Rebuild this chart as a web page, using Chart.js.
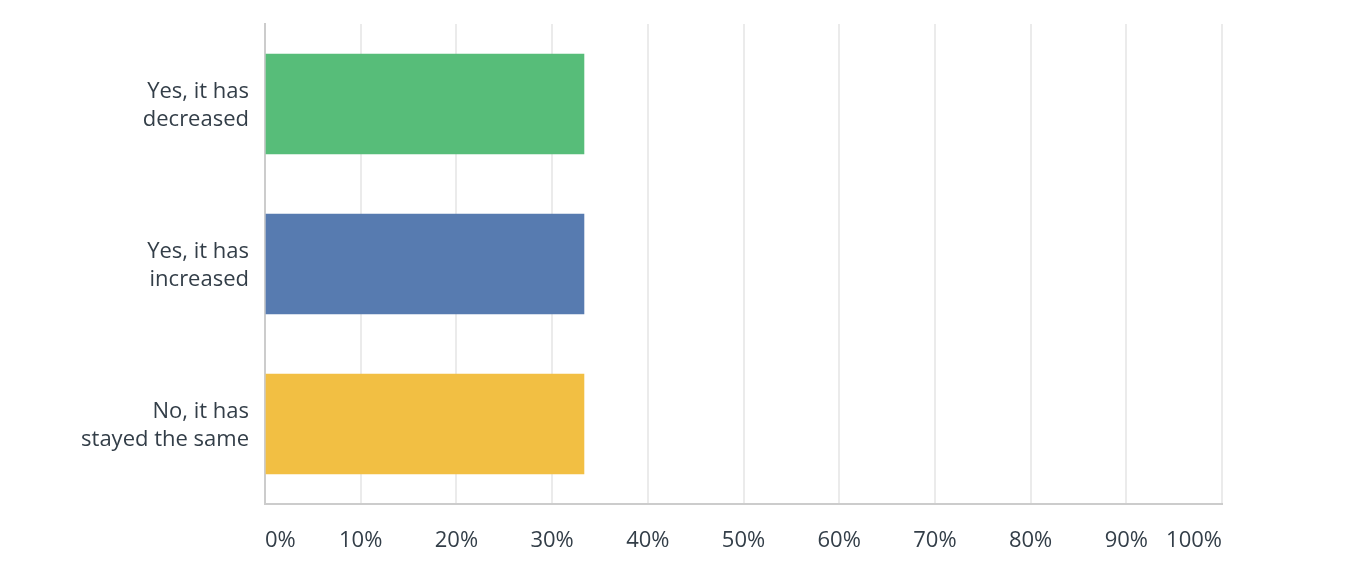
<!DOCTYPE html>
<html>
<head>
<meta charset="utf-8">
<script src="https://cdn.jsdelivr.net/npm/chart.js@4"></script>
<style>
  html, body { margin: 0; padding: 0; background: #fff; }
  #wrap { width: 1364px; height: 580px; }
</style>
</head>
<body>
<div id="wrap"><canvas id="surveyChart"></canvas></div>
<script>
const categories = [
    ['Yes, it has', 'decreased'],
    ['Yes, it has', 'increased'],
    ['No, it has', 'stayed the same']
];
const responses = [33.33, 33.33, 33.33];
const barColors = ['#57bd79', '#577bb0', '#f2bf43'];
const tickValues = [0, 10, 20, 30, 40, 50, 60, 70, 80, 90, 100];

const textColor = '#333e48';
const fontFamily = "'Open Sans', 'Noto Sans', sans-serif";

const ctx = document.getElementById('surveyChart').getContext('2d');
new Chart(ctx, {
    type: 'bar',
    data: {
        labels: categories,
        datasets: [{
            data: responses,
            backgroundColor: barColors,
            borderWidth: 0,
            barThickness: 100
        }]
    },
    options: {
        indexAxis: 'y',
        responsive: true,
        maintainAspectRatio: false,
        animation: false,
        layout: { padding: { top: 24, right: 142, left: 0, bottom: 0 } },
        plugins: {
            legend: { display: false },
            tooltip: { enabled: false }
        },
        scales: {
            x: {
                min: 0,
                max: 100,
                afterBuildTicks: (scale) => {
                    scale.ticks = tickValues.map(v => ({ value: v }));
                },
                afterFit: (scale) => {
                    scale.height = 76;
                    scale.paddingLeft = 0;
                    scale.paddingRight = 0;
                },
                ticks: {
                    align: 'inner',
                    padding: 24,
                    color: textColor,
                    font: { family: fontFamily, size: 22 },
                    callback: (v) => v + '%'
                },
                grid: {
                    color: '#ebebeb',
                    lineWidth: 2,
                    drawTicks: false
                },
                border: { color: '#cccccc', width: 2 }
            },
            y: {
                afterFit: (scale) => {
                    scale.width = 265;
                    scale.paddingTop = 0;
                    scale.paddingBottom = 0;
                },
                ticks: {
                    padding: 16,
                    labelOffset: 2,
                    color: textColor,
                    font: { family: fontFamily, size: 22, lineHeight: 1.27 }
                },
                grid: { display: false, drawTicks: false },
                border: { color: '#cccccc', width: 2 }
            }
        }
    }
});
</script>
</body>
</html>
